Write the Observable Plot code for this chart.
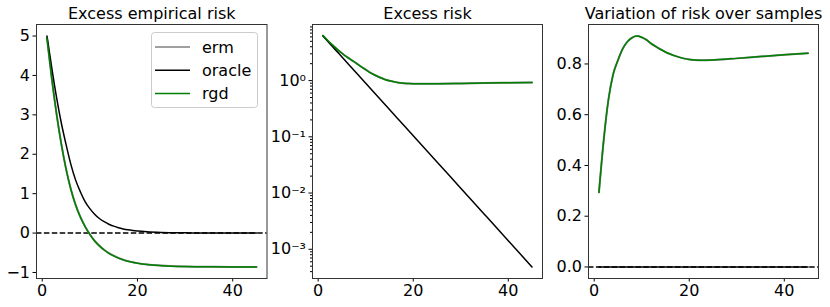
<!DOCTYPE html>
<html>
<head>
<meta charset="utf-8">
<script src="https://cdn.jsdelivr.net/npm/d3@7"></script>
<script src="https://cdn.jsdelivr.net/npm/@observablehq/plot@0.6"></script>
<style>
  body { margin: 0; background: #fff; font-family: "DejaVu Sans", sans-serif; }
  #wrap { position: relative; width: 830px; height: 307px; overflow: hidden; background: #fff; }
  .panel { position: absolute; top: 0; }
  #legend { position: absolute; left: 0; top: 0; pointer-events: none; }
</style>
</head>
<body>
<div id="wrap"></div>
<script>
// ---- data (sample index) ----
const xs = [1,2,3,4,5,6,7,8,9,10,11,12,13,14,15,16,17,18,19,20,22,25,30,35,40,45];

// Panel 1: excess empirical risk
const ermEmp    = [4.95,3.93,3.03,2.27,1.63,1.12,0.72,0.41,0.17,-0.03,-0.195,-0.32,-0.425,-0.51,-0.575,-0.632,-0.676,-0.712,-0.740,-0.763,-0.797,-0.826,-0.848,-0.856,-0.858,-0.859];
const oracleEmp = [5.0,4.2,3.45,2.8,2.25,1.75,1.35,1.05,0.8,0.62,0.48,0.37,0.29,0.225,0.175,0.135,0.105,0.082,0.064,0.05,0.031,0.015,0.005,0.0015,0.0005,0.0002];
const rgdEmp    = [4.95,3.93,3.03,2.27,1.63,1.12,0.72,0.41,0.165,-0.035,-0.20,-0.325,-0.43,-0.514,-0.58,-0.636,-0.68,-0.715,-0.743,-0.766,-0.80,-0.828,-0.85,-0.857,-0.859,-0.86];

// Panel 2: excess risk (log)
const ermRisk    = [6.31,5.15,4.28,3.60,3.07,2.65,2.32,2.04,1.78,1.57,1.38,1.245,1.135,1.05,0.993,0.95,0.92,0.90,0.887,0.881,0.877,0.879,0.891,0.906,0.916,0.925];
const oracleRisk = [6.21,5.01,4.04,3.26,2.63,2.12,1.71,1.379,1.112,0.897,0.723,0.583,0.471,0.380,0.306,0.247,0.199,0.1606,0.1296,0.1045,0.0680,0.0357,0.01218,0.00416,0.00142,0.000484];
const rgdRisk    = [6.31,5.15,4.28,3.60,3.07,2.65,2.32,2.04,1.78,1.57,1.38,1.245,1.135,1.05,0.993,0.95,0.92,0.90,0.887,0.881,0.877,0.879,0.891,0.906,0.916,0.925];

// Panel 3: variation of risk over samples
const ermVar    = [0.294,0.50,0.66,0.76,0.815,0.86,0.888,0.904,0.91,0.905,0.895,0.88,0.868,0.857,0.847,0.839,0.832,0.826,0.821,0.818,0.815,0.816,0.822,0.829,0.836,0.842];
const oracleVar = [0,0,0,0,0,0,0,0,0,0,0,0,0,0,0,0,0,0,0,0,0,0,0,0,0,0];
const rgdVar    = [0.294,0.50,0.66,0.76,0.815,0.86,0.888,0.904,0.91,0.905,0.895,0.88,0.868,0.857,0.847,0.839,0.832,0.826,0.821,0.818,0.815,0.816,0.822,0.829,0.836,0.842];

const titles = ["Excess empirical risk", "Excess risk", "Variation of risk over samples"];
const xTicks = [0, 20, 40];
const yTicks1 = [-1, 0, 1, 2, 3, 4, 5];
const yTicks2 = [1e-3, 1e-2, 1e-1, 1];
const yTicks2Labels = ["10\u207B\u00B3", "10\u207B\u00B2", "10\u207B\u00B9", "10\u2070"];
const yTicks3 = [0, 0.2, 0.4, 0.6, 0.8];
const seriesNames = ["erm", "oracle", "rgd"];
const seriesColors = ["#808080", "#000000", "#008000"];

// ---- build tables ----
const t1 = xs.map((x, i) => ({x, erm: ermEmp[i], oracle: oracleEmp[i], rgd: rgdEmp[i]}));
const t2 = xs.map((x, i) => ({x, erm: ermRisk[i], oracle: oracleRisk[i], rgd: rgdRisk[i]}));
const t3 = xs.map((x, i) => ({x, erm: ermVar[i], oracle: oracleVar[i], rgd: rgdVar[i]}));

const minor2 = [];
for (let e = -4; e <= 0; e++) for (let m = 2; m <= 9; m++) {
  const v = m * Math.pow(10, e);
  if (v > Math.pow(10, -3.52) && v < Math.pow(10, 0.998)) minor2.push(v);
}

const baseStyle = {fontFamily: "DejaVu Sans", fontSize: "16px", background: "transparent", overflow: "visible", color: "black"};
const xScale = {domain: [-1.2, 47.2]};

function lines(table) {
  return seriesNames.map((s, k) =>
    Plot.line(table, {x: "x", y: s, stroke: seriesColors[k], strokeWidth: s === "erm" ? 2 : 1.5, curve: "monotone-x"}));
}

function panel({left, width, marginLeft, marginRight, y, table, extra, yAxes, title}) {
  const p = Plot.plot({
    width, height: 307,
    marginLeft, marginRight, marginTop: 24, marginBottom: 29,
    style: baseStyle,
    x: xScale,
    y,
    marks: [
      ...extra,
      ...lines(table),
      Plot.axisX(xTicks, {tickSize: 3.5, tickPadding: 3, label: null, fontSize: 16}),
      ...yAxes,
      Plot.frame({stroke: "#333", strokeWidth: 1}),
      Plot.text([title], {frameAnchor: "top", dy: -6, lineAnchor: "bottom", fontSize: 16, fill: "black"})
    ]
  });
  p.classList.add("panel");
  p.style.left = left + "px";
  return p;
}

const wrap = document.getElementById("wrap");

wrap.appendChild(panel({
  left: 0, width: 276, marginLeft: 36, marginRight: 9.5,
  y: {domain: [-1.153, 5.293]},
  table: t1,
  extra: [Plot.ruleY([0], {stroke: "black", strokeWidth: 1.5, strokeDasharray: "5.5,2.4"})],
  yAxes: [Plot.axisY(yTicks1, {tickSize: 3.5, tickPadding: 3, label: null, fontSize: 16})],
  title: titles[0]
}));

wrap.appendChild(panel({
  left: 276, width: 276, marginLeft: 36, marginRight: 10,
  y: {type: "log", domain: [Math.pow(10, -3.52), Math.pow(10, 0.998)]},
  table: t2,
  extra: [],
  yAxes: [
    Plot.axisY(minor2, {tickSize: 2, tickFormat: () => "", label: null}),
    Plot.axisY(yTicks2, {tickSize: 3.5, tickPadding: 3, label: null, fontSize: 16,
      tickFormat: (d) => yTicks2Labels[yTicks2.indexOf(d)]})
  ],
  title: titles[1]
}));

wrap.appendChild(panel({
  left: 552, width: 278, marginLeft: 36, marginRight: 12,
  y: {domain: [-0.0455, 0.9555]},
  table: t3,
  extra: [Plot.ruleY([0], {stroke: "black", strokeWidth: 1.5, strokeDasharray: "5.5,2.4"})],
  yAxes: [Plot.axisY(yTicks3, {tickSize: 3.5, tickPadding: 3, label: null, fontSize: 16, tickFormat: d3.format(".1f")})],
  title: titles[2]
}));

// ---- legend (panel 1) ----
const ns = "http://www.w3.org/2000/svg";
const lg = document.createElementNS(ns, "svg");
lg.setAttribute("id", "legend");
lg.setAttribute("width", 830);
lg.setAttribute("height", 307);
const rect = document.createElementNS(ns, "rect");
Object.entries({x: 151.5, y: 32.5, width: 106, height: 75, rx: 3, fill: "white", "fill-opacity": 0.8, stroke: "#cccccc"})
  .forEach(([k, v]) => rect.setAttribute(k, v));
lg.appendChild(rect);
seriesNames.forEach((s, k) => {
  const cy = 47 + k * 23.3;
  const ln = document.createElementNS(ns, "line");
  Object.entries({x1: 155, x2: 190, y1: cy, y2: cy, stroke: seriesColors[k], "stroke-width": 1.5}).forEach(([a, v]) => ln.setAttribute(a, v));
  lg.appendChild(ln);
  const tx = document.createElementNS(ns, "text");
  Object.entries({x: 202, y: cy, "dominant-baseline": "central", "font-family": "DejaVu Sans", "font-size": 16, fill: "black"}).forEach(([a, v]) => tx.setAttribute(a, v));
  tx.textContent = s;
  lg.appendChild(tx);
});
wrap.appendChild(lg);
</script>
</body>
</html>
